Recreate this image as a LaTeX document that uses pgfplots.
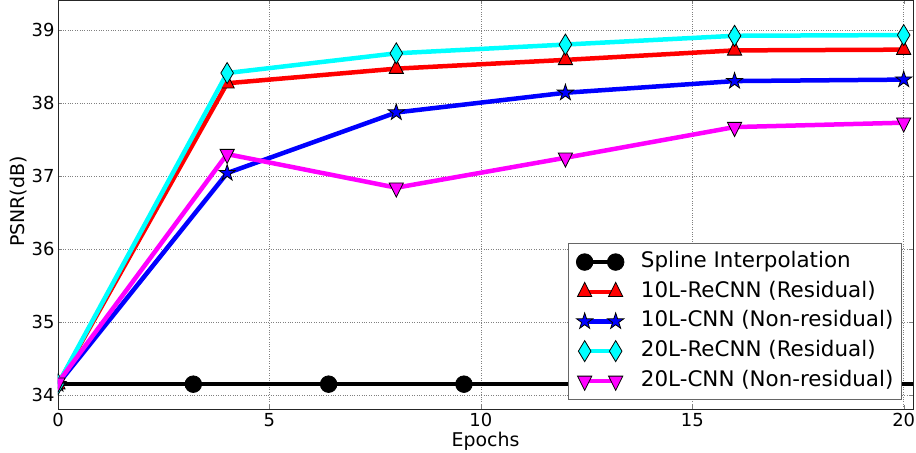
\documentclass[border=0pt]{standalone}
\usepackage{fontspec}
\setmainfont{DejaVu Sans}
\usepackage{pgfplots}
\pgfplotsset{compat=1.18}
\pgfdeclareplotmark{fstar}{%
  \pgfpathmoveto{\pgfqpointpolar{90}{\pgfplotmarksize}}%
  \pgfpathlineto{\pgfqpointpolar{126}{0.382\pgfplotmarksize}}%
  \pgfpathlineto{\pgfqpointpolar{162}{\pgfplotmarksize}}%
  \pgfpathlineto{\pgfqpointpolar{198}{0.382\pgfplotmarksize}}%
  \pgfpathlineto{\pgfqpointpolar{234}{\pgfplotmarksize}}%
  \pgfpathlineto{\pgfqpointpolar{270}{0.382\pgfplotmarksize}}%
  \pgfpathlineto{\pgfqpointpolar{306}{\pgfplotmarksize}}%
  \pgfpathlineto{\pgfqpointpolar{342}{0.382\pgfplotmarksize}}%
  \pgfpathlineto{\pgfqpointpolar{18}{\pgfplotmarksize}}%
  \pgfpathlineto{\pgfqpointpolar{54}{0.382\pgfplotmarksize}}%
  \pgfpathclose
  \pgfusepathqfillstroke
}
\definecolor{mred}{RGB}{255,0,0}
\definecolor{mblue}{RGB}{0,0,255}
\definecolor{mcyan}{RGB}{0,255,255}
\definecolor{mmag}{RGB}{255,0,255}
\begin{document}
\begin{tikzpicture}
\begin{axis}[
  scale only axis, width=855bp, height=409bp,
  xmin=0, xmax=20.22, ymin=33.81, ymax=39.41,
  xtick={0,5,10,15,20}, ytick={34,35,36,37,38,39},
  tick align=inside, major tick length=4bp,
  xtick pos=both, ytick pos=both,
  grid=major, grid style={dotted, black!50, line width=0.7bp},
  axis line style={line width=0.9bp, black!85},
  /pgf/number format/assume math mode=true,
  ticklabel style={font=\fontsize{18}{21}\selectfont},
  xticklabel style={anchor=base, yshift=-17bp},
  xlabel={Epochs}, ylabel={PSNR(dB)},
  every axis x label/.style={at={([yshift=-37bp]axis description cs:0.5,0)}, anchor=base, font=\fontsize{19}{22}\selectfont},
  every axis y label/.style={at={([xshift=-39bp,yshift=3bp]axis description cs:0,0.5)}, anchor=center, rotate=90, font=\fontsize{19}{22}\selectfont},
  clip marker paths=true,
  legend image code/.code={\draw[mark repeat=1, mark phase=1, #1] plot coordinates {(0bp,0bp) (31bp,0bp)};},
  legend cell align=left,
  legend style={at={(axis description cs:1,0)}, anchor=south east, xshift=-11bp, yshift=9bp,
    draw=black!60, line width=1.3bp, fill=white,
    font=\fontsize{21.5}{24}\selectfont,
    inner xsep=8bp, inner ysep=7bp, row sep=6.7bp, column sep=17bp,
    nodes={inner sep=0pt, text height=17bp, text depth=6bp}},
]
\addplot[black, line width=4.5bp, forget plot] coordinates {(0,34.15) (20.3,34.15)};
\addplot[black, line width=4.5bp, mark=*, mark size=8.3bp,
  mark options={solid, fill=black, draw=black, line width=0.8bp}]
  coordinates {(3.2,34.15) (6.4,34.15) (9.6,34.15) (12.8,34.15) (16,34.15) (19.2,34.15)};
\addlegendentry{Spline Interpolation}
\addplot[mred, line width=4.5bp, mark=triangle*, mark size=8.2bp,
  mark options={solid, fill=mred, draw=black, line width=0.8bp, yscale=1.15}]
  coordinates {(0,34.15) (4,38.27) (8,38.47) (12,38.59) (16,38.72) (20,38.73)};
\addlegendentry{10L-ReCNN (Residual)}
\addplot[mblue, line width=4.5bp, mark=fstar, mark size=8.5bp,
  mark options={solid, fill=mblue, draw=black, line width=0.8bp}]
  coordinates {(0,34.15) (4,37.04) (8,37.87) (12,38.14) (16,38.30) (20,38.32)};
\addlegendentry{10L-CNN (Non-residual)}
\addplot[mcyan, line width=4.5bp, mark=diamond*, mark size=10.5bp,
  mark options={solid, fill=mcyan, draw=black, line width=0.8bp, xscale=0.8}]
  coordinates {(0,34.15) (4,38.41) (8,38.68) (12,38.80) (16,38.92) (20,38.93)};
\addlegendentry{20L-ReCNN (Residual)}
\addplot[mmag, line width=4.5bp, mark=triangle*, mark size=8.2bp,
  mark options={solid, fill=mmag, draw=black, line width=0.8bp, rotate=180, yscale=1.15}]
  coordinates {(0,34.17) (4,37.30) (8,36.84) (12,37.25) (16,37.67) (20,37.73)};
\addlegendentry{20L-CNN (Non-residual)}
\coordinate (sw) at (rel axis cs:0,0);
\coordinate (ne) at (rel axis cs:1,1);
\end{axis}
\pgfresetboundingbox
\path[use as bounding box] ([xshift=-58bp,yshift=-44bp]sw) rectangle ([xshift=3bp]ne);
\end{tikzpicture}
\end{document}
